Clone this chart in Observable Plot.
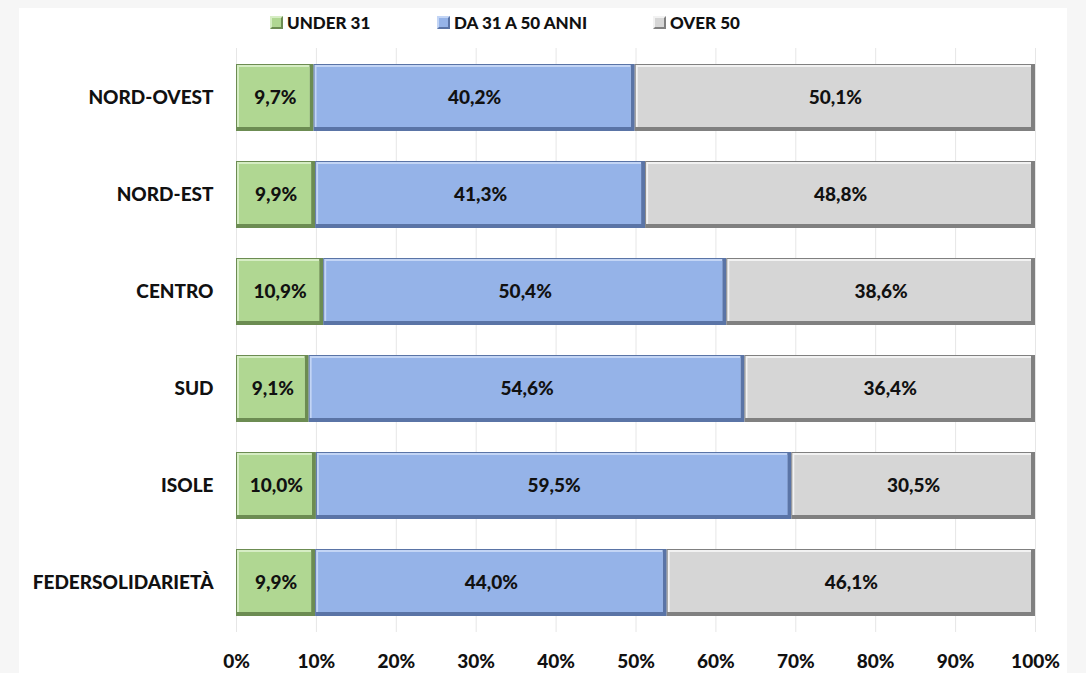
<!DOCTYPE html>
<html><head><meta charset="utf-8">
<script src="https://cdn.jsdelivr.net/npm/d3@7"></script>
<script src="https://cdn.jsdelivr.net/npm/@observablehq/plot@0.6"></script>
<style>
html,body{margin:0;padding:0;background:#f6f6f6;width:1086px;height:673px;overflow:hidden;font-family:Lato,"Open Sans",sans-serif;}
#panel{position:absolute;left:19px;top:8px;width:1048px;height:665px;background:#fff;}
#legend{position:absolute;left:0;top:0;width:1048px;height:28px;font-weight:900;font-size:17px;color:#111;}
.item{position:absolute;top:0;height:28px;display:flex;align-items:center;gap:4px;}
.sw{width:9px;height:9px;border:2px solid;border-color:var(--hi) var(--dk) var(--dk) var(--hi);}
#chart{position:absolute;left:0;top:30px;}
</style></head>
<body>
<div id="panel"><div id="legend"></div><div id="chart"></div></div>
<script>
const regions = ["NORD-OVEST","NORD-EST","CENTRO","SUD","ISOLE","FEDERSOLIDARIETÀ"];
const series = ["UNDER 31","DA 31 A 50 ANNI","OVER 50"];
const under31 = [9.7, 9.9, 10.9, 9.1, 10.0, 9.9];
const da31a50 = [40.2, 41.3, 50.4, 54.6, 59.5, 44.0];
const over50  = [50.1, 48.8, 38.6, 36.4, 30.5, 46.1];
const xTicks = [0,0.1,0.2,0.3,0.4,0.5,0.6,0.7,0.8,0.9,1];
const xTickLabels = ["0%","10%","20%","30%","40%","50%","60%","70%","80%","90%","100%"];

const mainColors = ["#b0d792","#95b3e8","#d6d6d6"];
const darkColors = ["#6c8c52","#5a74a6","#808080"];
const hiColors   = ["#d6edc4","#c3d5f5","#f2f2f2"];
const legendLeft = [251, 418, 634];

const valuesBySeries = [under31, da31a50, over50];
const data = [];
regions.forEach((r, i) => series.forEach((s, j) => data.push({region: r, series: s, value: valuesBySeries[j][i]})));

const fmt = v => v.toFixed(1).replace(".", ",") + "%";

// legend
const legend = document.getElementById("legend");
series.forEach((s, j) => {
  const it = document.createElement("div"); it.className = "item";
  it.style.left = legendLeft[j] + "px";
  const sw = document.createElement("div"); sw.className = "sw";
  sw.style.background = mainColors[j];
  sw.style.setProperty("--hi", hiColors[j]);
  sw.style.setProperty("--dk", darkColors[j]);
  const t = document.createElement("span"); t.textContent = s;
  it.append(sw, t); legend.append(it);
});

const stack = (opts) => Plot.stackX({x: "value", y: "region", z: "series", offset: "normalize", ...opts});

const chart = Plot.plot({
  width: 1048,
  height: 635,
  marginLeft: 217,
  marginRight: 32,
  marginTop: 10,
  marginBottom: 41,
  style: {fontFamily: "Lato, 'Open Sans', sans-serif", fontSize: "19px", fontWeight: "900", color: "#111", background: "transparent"},
  x: {domain: [0, 1], ticks: xTicks},
  y: {domain: regions, paddingInner: 0.31, paddingOuter: 0.16},
  color: {domain: series, range: mainColors},
  marks: [
    Plot.gridX(xTicks, {stroke: "#e6e6e6", strokeOpacity: 1}),
    Plot.barX(data, stack({fill: d => darkColors[series.indexOf(d.series)]})),
    Plot.barX(data, stack({fill: d => hiColors[series.indexOf(d.series)], insetLeft: 1, insetTop: 1, insetRight: 4, insetBottom: 4})),
    Plot.barX(data, stack({fill: "series", insetLeft: 3, insetTop: 3, insetRight: 4, insetBottom: 4})),
    Plot.text(data, stack({text: d => fmt(d.value), fill: "#111", fontSize: 19, fontWeight: 900})),
    Plot.axisX(xTicks, {tickSize: 0, tickPadding: 22, tickFormat: (d, i) => xTickLabels[i], fontSize: 19, fontWeight: 900, label: null}),
    Plot.axisY({tickSize: 0, tickPadding: 23, fontSize: 19, fontWeight: 900, label: null})
  ]
});
document.getElementById("chart").append(chart);
</script>
</body></html>
